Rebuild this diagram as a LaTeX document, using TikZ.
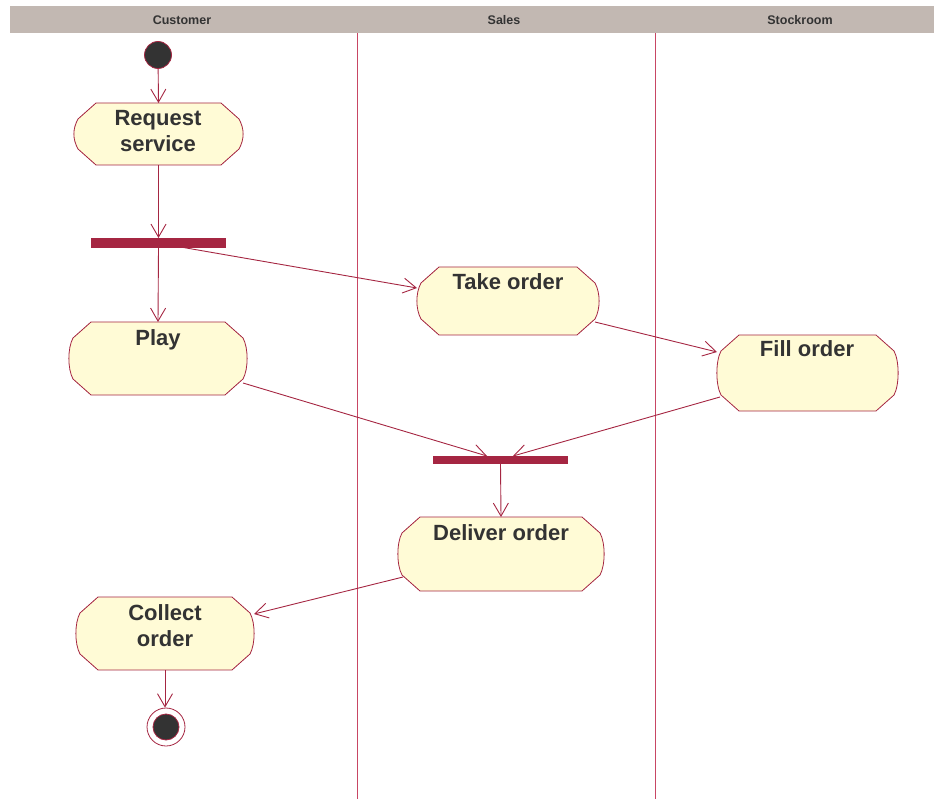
\documentclass[tikz,border=0pt]{standalone}
\usepackage{fontspec}
\setmainfont{Liberation Sans}
\usetikzlibrary{arrows.meta,calc}
\definecolor{crim}{RGB}{165,38,66}
\definecolor{lanecol}{RGB}{200,70,100}
\definecolor{actfill}{RGB}{255,251,214}
\definecolor{hdrfill}{RGB}{194,184,178}
\definecolor{txt}{RGB}{51,51,51}
\newcommand\actdraw[1]{%
  \path[actline] let \p1=(#1.north west), \p2=(#1.south east) in
  (\x1+22pt,\y1) -- (\x2-22pt,\y1) -- (\x2-4pt,\y1-16pt)
  .. controls (\x2+1.5pt,\y1-26pt) and (\x2+1.5pt,\y2+26pt) .. (\x2-4pt,\y2+16pt)
  -- (\x2-22pt,\y2) -- (\x1+22pt,\y2) -- (\x1+4pt,\y2+16pt)
  .. controls (\x1-1.5pt,\y2+26pt) and (\x1-1.5pt,\y1-26pt) .. (\x1+4pt,\y1-16pt)
  -- cycle;}
\begin{document}
\begin{tikzpicture}[x=1pt,y=-1pt,
  actbox/.style={rectangle,draw=none,inner sep=0pt,outer sep=0pt},
  actline/.style={draw=crim,line width=0.8pt,fill=actfill},
  lbl/.style={text=txt,font=\fontsize{22pt}{26pt}\selectfont\bfseries,inner sep=0pt},
  hdrlbl/.style={text=txt,font=\fontsize{12.5pt}{14pt}\selectfont\bfseries,inner sep=0pt},
  bar/.style={rectangle,fill=crim,draw=none,inner sep=0pt,outer sep=0pt},
  flow/.style={draw=crim,line width=0.9pt,-{Straight Barb[length=13pt,width=15pt]}},
  lanefill/.style={fill=lanecol},
  startdot/.style={circle,fill=txt,draw=crim,line width=0.8pt,minimum size=27pt,inner sep=0pt},
  endring/.style={circle,fill=white,draw=crim,line width=0.8pt,minimum size=38pt,inner sep=0pt},
  endcore/.style={circle,fill=txt,draw=crim,line width=0.8pt,minimum size=26pt,inner sep=0pt}]
\useasboundingbox (0,0) rectangle (934,799);
% header
\fill[hdrfill] (10,6) rectangle (934,33);
\node[hdrlbl] (h1) at (182,20) {Customer};
\node[hdrlbl] (h2) at (504,20) {Sales};
\node[hdrlbl] (h3) at (800,20) {Stockroom};
\fill[lanefill] (356.6,33) rectangle (357.6,799);
\fill[lanefill] (654.6,33) rectangle (655.6,799);
% start
\node[startdot] (start) at (158,55) {};
% activities
\node[actbox,minimum width=169pt,minimum height=62pt] (req) at (158.5,134) {};
\actdraw{req}
\node[lbl,align=center,anchor=base] (req-t) at (158,152) {Request\\service};
\node[bar,minimum width=135pt,minimum height=10pt] (fork) at (158.5,243) {};
\node[actbox,minimum width=178pt,minimum height=73pt] (play) at (158,358.5) {};
\actdraw{play}
\node[lbl,anchor=base] (play-t) at (158,345) {Play};
\node[actbox,minimum width=182pt,minimum height=68pt] (take) at (508,301) {};
\actdraw{take}
\node[lbl,anchor=base] (take-t) at (508,290) {Take order};
\node[actbox,minimum width=181pt,minimum height=76pt] (fill) at (807.5,373) {};
\actdraw{fill}
\node[lbl,anchor=base] (fill-t) at (807,357) {Fill order};
\node[bar,minimum width=135pt,minimum height=8pt] (join) at (500.5,460) {};
\node[actbox,minimum width=206pt,minimum height=74pt] (deliver) at (501,554) {};
\actdraw{deliver}
\node[lbl,anchor=base] (deliver-t) at (501,540) {Deliver order};
\node[actbox,minimum width=178pt,minimum height=73pt] (collect) at (165,633.5) {};
\actdraw{collect}
\node[lbl,align=center,anchor=base] (collect-t) at (165,646) {Collect\\order};
% end
\node[endring] (fin) at (166,727) {};
\node[endcore] (fincore) at (fin) {};
% flows
\draw[flow] (start) -- (req.north);
\draw[flow] (req.south) -- (fork.north);
\draw[flow] (fork.south) -- (play.north);
\draw[flow] ($(fork.south)+(22,-1)$) -- ($(take.west)+(0,-13)$);
\draw[flow] ($(take.east)+(-4,21)$) -- ($(fill.west)+(0,-21)$);
\draw[flow] ($(play.east)+(-4,24.5)$) -- ($(join.north)+(-13.5,0)$);
\draw[flow] ($(fill.west)+(3,24)$) -- ($(join.north)+(12.5,0)$);
\draw[flow] (join.south) -- (deliver.north);
\draw[flow] ($(deliver.west)+(5,23)$) -- ($(collect.east)+(0,-19.5)$);
\draw[flow] (collect.south) -- (collect.south |- fin.north);
\end{tikzpicture}
\end{document}
